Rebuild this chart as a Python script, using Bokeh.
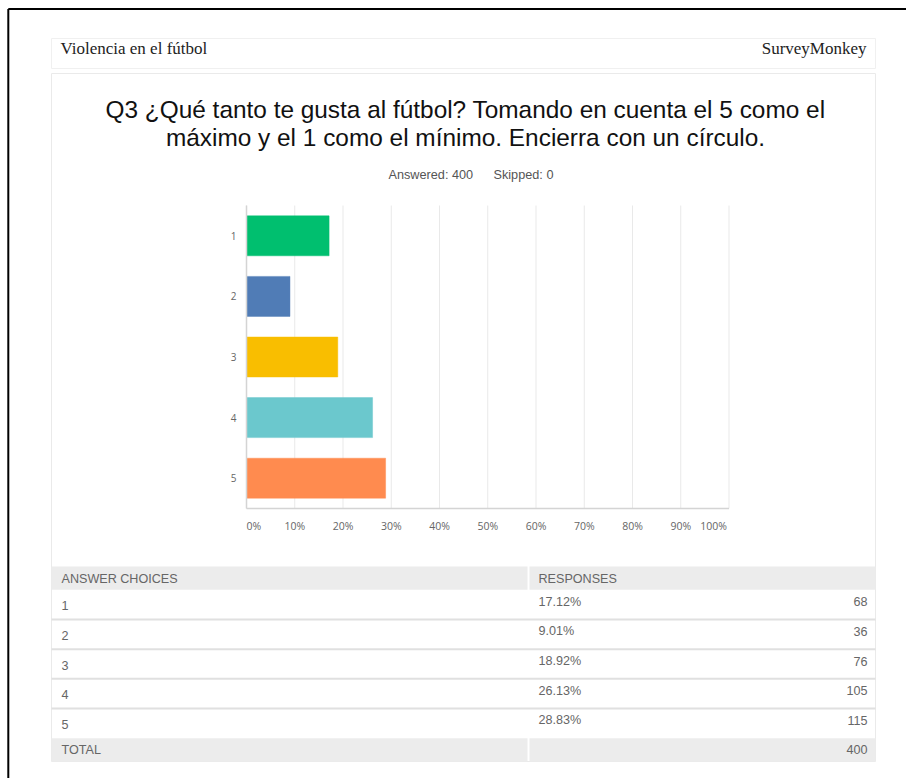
from bokeh.plotting import figure
from bokeh.models import ColumnDataSource, Range1d
from bokeh.core.properties import value, field
from bokeh.embed import file_html
from bokeh.resources import INLINE

# ---------------- data ----------------
choices = ["1", "2", "3", "4", "5"]
percents = [17.12, 9.01, 18.92, 26.13, 28.83]
counts = [68, 36, 76, 105, 115]
total = 400
answered = 400
skipped = 0
bar_colors = ["#00BF6F", "#507CB6", "#F9BE00", "#6BC8CD", "#FF8B4F"]
x_ticks = [0, 10, 20, 30, 40, 50, 60, 70, 80, 90, 100]
x_tick_labels = ["0%", "10%", "20%", "30%", "40%", "50%", "60%", "70%", "80%", "90%", "100%"]
header_left = "Violencia en el fútbol"
header_right = "SurveyMonkey"
title_lines = ["Q3 ¿Qué tanto te gusta al fútbol? Tomando en cuenta el 5 como el",
               "máximo y el 1 como el mínimo. Encierra con un círculo."]
col_headers = ["ANSWER CHOICES", "RESPONSES"]
total_label = "TOTAL"

# ---------------- layout (pixels, top-left origin) ----------------
W, H = 906, 778
CL, CR, CT, CB = 246, 728.5, 205, 508       # bar-chart plotting area
ppx = (CR - CL) / 100.0                      # pixels per percent
unit = (CB - CT) / len(choices)              # pixels per category

# main scales: percent (x) and category position (y, 1 at top)
x_range = Range1d(start=-CL / ppx, end=100 + (W - CR) / ppx)
y_range = Range1d(start=len(choices) + 0.5 + (H - CB) / unit, end=0.5 - CT / unit)

p = figure(width=W, height=H, output_backend="svg", toolbar_location=None,
           x_range=x_range, y_range=y_range,
           x_axis_location=None, y_axis_location=None, min_border=0)
p.extra_x_ranges = {"px": Range1d(0, W)}
p.extra_y_ranges = {"px": Range1d(H, 0)}
p.outline_line_color = None
p.grid.visible = False
p.background_fill_color = "white"
p.border_fill_color = "white"

PX = dict(x_range_name="px", y_range_name="px")
ypos = list(range(1, len(choices) + 1))
y_lo, y_hi = 0.5, len(choices) + 0.5

# ---------------- page frame, header strip, card ----------------
p.segment(x0=[7.8, 7.8], y0=[8.6, 8.6], x1=[W + 5, 7.8], y1=[8.6, H + 5],
          line_color="black", line_width=2, **PX)
p.quad(left=51, right=875, top=38, bottom=68, fill_color=None,
       line_color="#f0f0f0", line_width=1, **PX)
p.quad(left=51, right=875, top=73, bottom=761, fill_color=None,
       line_color="#eaeaea", line_width=1, **PX)

p.text(x=[60], y=[48], text=[header_left], text_font=value("Liberation Serif"),
       text_font_size=value("17px"), text_color="#222222", text_baseline="middle",
       text_align="left", **PX)
p.text(x=[866], y=[48], text=[header_right], text_font=value("Liberation Serif"),
       text_font_size=value("17px"), text_color="#222222", text_baseline="middle",
       text_align="right", **PX)

p.text(x=[465] * len(title_lines), y=[109 + 28 * i for i in range(len(title_lines))],
       text=title_lines, text_font=value("Liberation Sans"), text_font_size=value("24.4px"),
       text_color="#111111", text_baseline="middle", text_align="center", **PX)

p.text(x=[388, 493], y=[174, 174], text=[f"Answered: {answered}", f"Skipped: {skipped}"],
       text_font=value("Liberation Sans"), text_font_size=value("12.7px"),
       text_color="#555555", text_baseline="middle", text_align="left", **PX)

# ---------------- bar chart (percent / category scales) ----------------
p.segment(x0=x_ticks, y0=[y_lo] * len(x_ticks), x1=x_ticks, y1=[y_hi] * len(x_ticks),
          line_color="#e9e9e9", line_width=1)

src = ColumnDataSource(dict(y=ypos, pct=percents, color=bar_colors))
p.hbar(y="y", left=0, right="pct", height=0.66, source=src,
       fill_color="color", line_color="color", line_alpha=0.45, line_width=1)

# axis lines
p.segment(x0=[0, 0], y0=[y_lo, y_hi], x1=[0, 100], y1=[y_hi, y_hi],
          line_color="#d4d4d4", line_width=1.5)

# category labels
p.text(x=[0] * len(choices), y=ypos, text=choices, x_offset=-10,
       text_font=value("Open Sans"), text_font_size=value("10px"),
       text_color="#666666", text_baseline="middle", text_align="right")

# x tick labels (first left-aligned, last right-aligned)
aligns = ["left"] + ["center"] * (len(x_ticks) - 2) + ["right"]
xoffs = [0] * (len(x_ticks) - 1) + [-2]
tick_src = ColumnDataSource(dict(x=x_ticks, y=[y_hi] * len(x_ticks),
                                 text=x_tick_labels, align=aligns, xo=xoffs))
p.text(x="x", y="y", text="text", source=tick_src, y_offset=17, x_offset="xo",
       text_align=field("align"), text_baseline="middle",
       text_font=value("Open Sans"), text_font_size=value("10.5px"),
       text_color="#666666")

# ---------------- table ----------------
TL, TM, TR = 51, 527, 875
HEAD_T, HEAD_B = 566, 589.3
PITCH = 29.67
GRAY = "#ececec"
tot_t = HEAD_B + PITCH * len(choices)

sep_y = [HEAD_B + PITCH * (i + 1) for i in range(len(choices) - 1)]
p.quad(left=[TL, TM + 2, TL, TM + 2], right=[TM, TR, TM, TR],
       top=[HEAD_T, HEAD_T, tot_t, tot_t], bottom=[HEAD_B, HEAD_B, 761, 761],
       fill_color=GRAY, line_color=None, **PX)
p.segment(x0=[TL] * len(sep_y), y0=sep_y, x1=[TR] * len(sep_y), y1=sep_y,
          line_color="#e0e0e0", line_width=2, **PX)

p.text(x=[61, 538, 61], y=[HEAD_T + 12, HEAD_T + 12, tot_t + 11.5],
       text=[col_headers[0], col_headers[1], total_label],
       text_font=value("Liberation Sans"), text_font_size=value("12.6px"),
       text_color="#666666", text_baseline="middle", text_align="left", **PX)
p.text(x=[867], y=[tot_t + 11.5], text=[str(total)],
       text_font=value("Liberation Sans"), text_font_size=value("12.6px"),
       text_color="#666666", text_baseline="middle", text_align="right", **PX)

row_src = ColumnDataSource(dict(
    choice=choices,
    pct=[f"{v:.2f}%" for v in percents],
    cnt=[str(c) for c in counts],
    x_choice=[61] * len(choices),
    x_pct=[538] * len(choices),
    x_cnt=[867] * len(choices),
    y_choice=[HEAD_B + PITCH * i + 16 for i in range(len(choices))],
    y_val=[HEAD_B + PITCH * i + 12 for i in range(len(choices))],
))
tstyle = dict(source=row_src, text_font=value("Liberation Sans"),
              text_font_size=value("12.6px"), text_color="#666666",
              text_baseline="middle", **PX)
p.text(x="x_choice", y="y_choice", text="choice", text_align="left", **tstyle)
p.text(x="x_pct", y="y_val", text="pct", text_align="left", **tstyle)
p.text(x="x_cnt", y="y_val", text="cnt", text_align="right", **tstyle)

open("out.html", "w").write(file_html(p, INLINE))
